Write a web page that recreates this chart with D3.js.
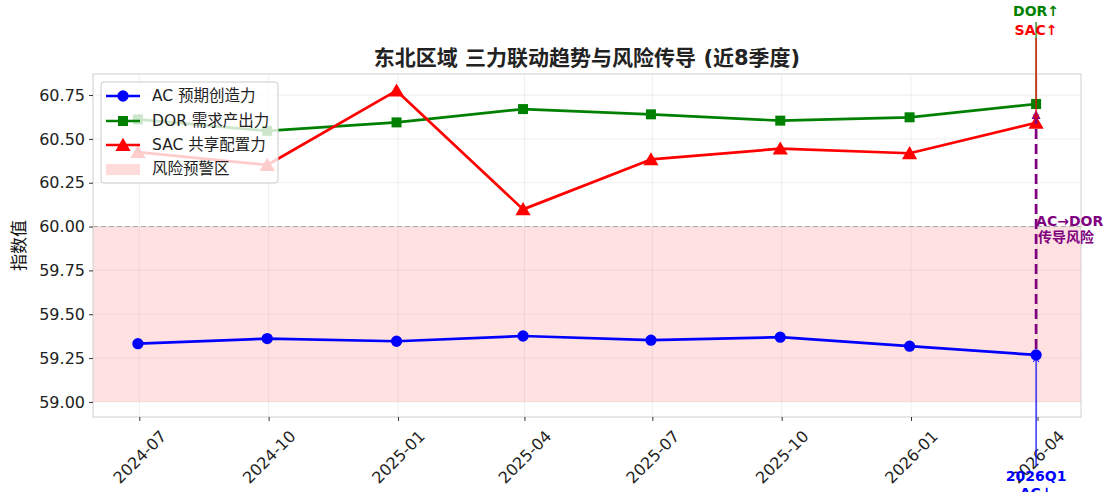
<!DOCTYPE html>
<html>
<head>
<meta charset="utf-8">
<script src="https://cdn.jsdelivr.net/npm/d3@7"></script>
<style>
body { margin:0; background:#fff; }
svg text { font-family: "DejaVu Sans", "Noto Sans CJK SC", sans-serif; }
</style>
</head>
<body>
<svg id="chart" width="1104" height="492"></svg>
<script>
const dates = ["2024-06-30","2024-09-30","2024-12-31","2025-03-31","2025-06-30","2025-09-30","2025-12-31","2026-03-31"];
const acValues  = [59.332, 59.361, 59.346, 59.376, 59.352, 59.369, 59.318, 59.268];
const dorValues = [60.611, 60.546, 60.594, 60.670, 60.640, 60.604, 60.623, 60.699];
const sacValues = [60.425, 60.351, 60.775, 60.098, 60.383, 60.444, 60.418, 60.592];
const xTickLabels = ["2024-07","2024-10","2025-01","2025-04","2025-07","2025-10","2026-01","2026-04"];
const yTicks = [59.00, 59.25, 59.50, 59.75, 60.00, 60.25, 60.50, 60.75];
const seriesNames = ["AC 预期创造力","DOR 需求产出力","SAC 共享配置力"];
const seriesColors = ["#0000ff","#008000","#ff0000"];
const riskLow = 59.0, riskHigh = 60.0;
const title = "东北区域 三力联动趋势与风险传导 (近8季度)";

const parse = d3.timeParse("%Y-%m-%d");
const xDates = dates.map(parse);
const tickDates = xTickLabels.map(s => parse(s + "-01"));

const svg = d3.select("#chart");
const L = 93, R = 1081, T = 74, B = 417;

const d0 = xDates[0], d1 = xDates[xDates.length-1];
const span = d1 - d0;
const x = d3.scaleTime().domain([new Date(+d0 - 0.05*span), new Date(+d1 + 0.05*span)]).range([L, R]);
const y = d3.scaleLinear().domain([58.914, 60.870]).range([B, T]);

// risk zone
svg.append("rect").attr("x", L).attr("width", R-L)
  .attr("y", y(riskHigh)).attr("height", y(riskLow)-y(riskHigh))
  .attr("fill", "#ffe1e1");

// grid
const g = svg.append("g");
tickDates.forEach(d => g.append("line").attr("x1", x(d)).attr("x2", x(d)).attr("y1", T).attr("y2", B)
  .attr("stroke", "#b0b0b0").attr("stroke-opacity", 0.25).attr("stroke-width", 0.8));
yTicks.forEach(v => g.append("line").attr("x1", L).attr("x2", R).attr("y1", y(v)).attr("y2", y(v))
  .attr("stroke", "#b0b0b0").attr("stroke-opacity", 0.25).attr("stroke-width", 0.8));

// threshold dashed line
svg.append("line").attr("x1", L).attr("x2", R).attr("y1", y(60)).attr("y2", y(60))
  .attr("stroke", "#999").attr("stroke-width", 1).attr("stroke-dasharray", "5,3").attr("opacity", 0.8);

// spines
svg.append("rect").attr("x", L).attr("y", T).attr("width", R-L).attr("height", B-T)
  .attr("fill", "none").attr("stroke", "#d0d0d0").attr("stroke-width", 1);

// axes
const xAxis = d3.axisBottom(x).tickValues(tickDates).tickFormat((d,i) => xTickLabels[i]).tickSize(4).tickPadding(3);
const gx = svg.append("g").attr("transform", `translate(0,${B})`).call(xAxis);
gx.select(".domain").remove();
gx.selectAll(".tick line").attr("stroke", "#333");
gx.selectAll(".tick text").attr("font-size", 16).attr("fill", "#222")
  .attr("text-anchor", "middle").attr("dominant-baseline", "central")
  .attr("y", 0).attr("dy", 0)
  .attr("transform", "translate(0,40) rotate(-45)");

const yAxis = d3.axisLeft(y).tickValues(yTicks).tickFormat(d3.format(".2f")).tickSize(4).tickPadding(4);
const gy = svg.append("g").attr("transform", `translate(${L},0)`).call(yAxis);
gy.select(".domain").remove();
gy.selectAll(".tick line").attr("stroke", "#333");
gy.selectAll(".tick text").attr("font-size", 16).attr("fill", "#222");

// y label
svg.append("text").attr("transform", `translate(25,${(T+B)/2}) rotate(-90)`)
  .attr("text-anchor", "middle").attr("font-size", 17).attr("fill", "#111").text("指数值");

// title
svg.append("text").attr("x", (L+R)/2).attr("y", 65).attr("text-anchor", "middle")
  .attr("font-size", 21).attr("font-weight", "bold").attr("fill", "#222").text(title);

// series
const allSeries = [acValues, dorValues, sacValues];
const line = d3.line().x((d,i) => x(xDates[i])).y(d => y(d));
const sym = [d3.symbolCircle, d3.symbolSquare, d3.symbolTriangle];
const symSize = [100, 100, 100];
allSeries.forEach((vals, si) => {
  svg.append("path").datum(vals).attr("d", line).attr("fill", "none")
    .attr("stroke", seriesColors[si]).attr("stroke-width", 2.7).attr("stroke-linejoin", "round");
  vals.forEach((v, i) => {
    svg.append("path").attr("d", d3.symbol().type(sym[si]).size(symSize[si])())
      .attr("transform", `translate(${x(xDates[i])},${y(v) + (si===2 ? 1.5 : 0)})`)
      .attr("fill", seriesColors[si]);
  });
});

// annotations at last point
const lx = x(xDates[xDates.length-1]);
const last = i => allSeries[i][allSeries[i].length-1];
const defs = svg.append("defs");
function openHead(id, color) {
  defs.append("marker").attr("id", id).attr("viewBox", "-6 -6 12 12").attr("markerWidth", 10).attr("markerHeight", 10)
    .attr("refX", 0).attr("refY", 0).attr("orient", "auto").attr("markerUnits", "userSpaceOnUse")
    .append("path").attr("d", "M-5,-3.5 L0,0 L-5,3.5").attr("fill", "none").attr("stroke", color).attr("stroke-width", 1.2);
}
openHead("hg", "#008000"); openHead("hr", "#ff0000"); openHead("hb", "#0000ff");
defs.append("marker").attr("id", "hp").attr("viewBox", "-10 -6 12 12").attr("markerWidth", 12).attr("markerHeight", 12)
  .attr("refX", 0).attr("refY", 0).attr("orient", "auto").attr("markerUnits", "userSpaceOnUse")
  .append("path").attr("d", "M-9,-4.5 L0,0 L-9,4.5 Z").attr("fill", "#800080");

// purple dashed transmission arrow
svg.append("line").attr("x1", lx).attr("x2", lx).attr("y1", y(last(0)) - 6).attr("y2", y(last(1)) + 6)
  .attr("stroke", "#800080").attr("stroke-width", 2.7).attr("stroke-dasharray", "10,5")
  .attr("marker-end", "url(#hp)");

// DOR / SAC arrows from top
svg.append("line").attr("x1", lx).attr("x2", lx).attr("y1", 22).attr("y2", y(last(1)) - 1)
  .attr("stroke", "#008000").attr("stroke-width", 1.2).attr("marker-end", "url(#hg)");
svg.append("line").attr("x1", lx).attr("x2", lx).attr("y1", 38).attr("y2", y(last(2)) - 4)
  .attr("stroke", "#ff0000").attr("stroke-width", 1.2).attr("marker-end", "url(#hr)");
svg.append("text").attr("x", lx).attr("y", 16).attr("text-anchor", "middle").attr("font-size", 14)
  .attr("font-weight", "bold").attr("fill", "#008000").text("DOR↑");
svg.append("text").attr("x", lx).attr("y", 35).attr("text-anchor", "middle").attr("font-size", 14)
  .attr("font-weight", "bold").attr("fill", "#ff0000").text("SAC↑");

// AC arrow from bottom
svg.append("line").attr("x1", lx).attr("x2", lx).attr("y1", 466).attr("y2", y(last(0)) + 3)
  .attr("stroke", "#0000ff").attr("stroke-width", 1.2).attr("marker-end", "url(#hb)");
svg.append("text").attr("x", lx).attr("y", 481).attr("text-anchor", "middle").attr("font-size", 14)
  .attr("font-weight", "bold").attr("fill", "#0000ff").text("2026Q1");
svg.append("text").attr("x", lx).attr("y", 498).attr("text-anchor", "middle").attr("font-size", 14)
  .attr("font-weight", "bold").attr("fill", "#0000ff").text("AC↓");

// transmission label
svg.append("text").attr("x", lx).attr("y", 226).attr("font-size", 14)
  .attr("font-weight", "bold").attr("fill", "#800080").text("AC→DOR");
svg.append("text").attr("x", lx + 2).attr("y", 242).attr("font-size", 14)
  .attr("font-weight", "bold").attr("fill", "#800080").text("传导风险");

// legend
const lg = svg.append("g");
lg.append("rect").attr("x", 101).attr("y", 82).attr("width", 177).attr("height", 101).attr("rx", 3)
  .attr("fill", "#fff").attr("fill-opacity", 0.8).attr("stroke", "#ccc").attr("stroke-width", 1);
const rows = [96, 121, 145, 169];
seriesNames.forEach((n, i) => {
  lg.append("line").attr("x1", 106).attr("x2", 140).attr("y1", rows[i]).attr("y2", rows[i])
    .attr("stroke", seriesColors[i]).attr("stroke-width", 2.7);
  lg.append("path").attr("d", d3.symbol().type(sym[i]).size(symSize[i])())
    .attr("transform", `translate(123,${rows[i] + (i===2 ? 1.5 : 0)})`).attr("fill", seriesColors[i]);
  lg.append("text").attr("x", 152).attr("y", rows[i]).attr("dy", "0.35em").attr("font-size", 15.5)
    .attr("fill", "#222").text(n);
});
lg.append("rect").attr("x", 106).attr("y", rows[3]-5).attr("width", 34).attr("height", 11)
  .attr("fill", "#ffcccc").attr("fill-opacity", 0.7);
lg.append("text").attr("x", 152).attr("y", rows[3]).attr("dy", "0.35em").attr("font-size", 15.5)
  .attr("fill", "#222").text("风险预警区");
</script>
</body>
</html>
